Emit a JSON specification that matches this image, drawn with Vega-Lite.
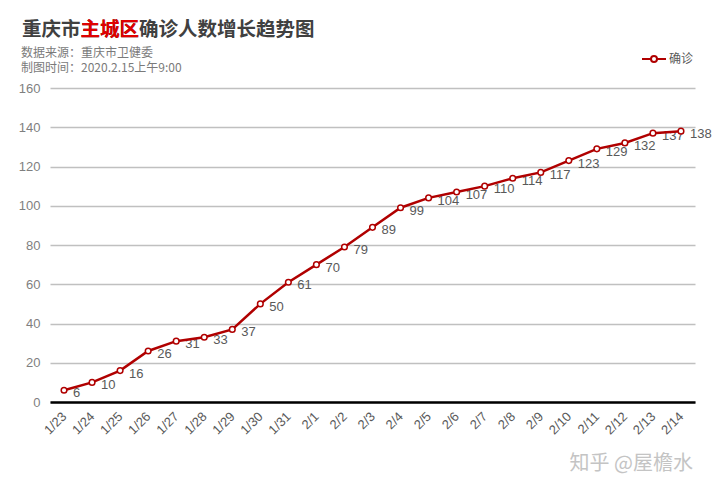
{
  "$schema": "https://vega.github.io/schema/vega-lite/v6.json",
  "width": 645,
  "height": 314,
  "autosize": {"type": "none"},
  "padding": {"left": 50, "top": 88, "right": 25, "bottom": 93},
  "background": "#ffffff",
  "config": {"view": {"stroke": null}},
  "title": {
    "text": ["数据来源：重庆市卫健委", "制图时间：2020.2.15上午9:00"],
    "anchor": "start",
    "frame": "group",
    "dx": -29,
    "offset": -55.5,
    "fontSize": 12,
    "fontWeight": "normal",
    "font": "Noto Sans CJK SC",
    "color": "#7a7a7a",
    "lineHeight": 15
  },
  "data": {
    "values": [
      {"date": "1/23", "count": 6},
      {"date": "1/24", "count": 10},
      {"date": "1/25", "count": 16},
      {"date": "1/26", "count": 26},
      {"date": "1/27", "count": 31},
      {"date": "1/28", "count": 33},
      {"date": "1/29", "count": 37},
      {"date": "1/30", "count": 50},
      {"date": "1/31", "count": 61},
      {"date": "2/1", "count": 70},
      {"date": "2/2", "count": 79},
      {"date": "2/3", "count": 89},
      {"date": "2/4", "count": 99},
      {"date": "2/5", "count": 104},
      {"date": "2/6", "count": 107},
      {"date": "2/7", "count": 110},
      {"date": "2/8", "count": 114},
      {"date": "2/9", "count": 117},
      {"date": "2/10", "count": 123},
      {"date": "2/11", "count": 129},
      {"date": "2/12", "count": 132},
      {"date": "2/13", "count": 137},
      {"date": "2/14", "count": 138}
    ]
  },
  "encoding": {
    "x": {
      "field": "date",
      "type": "ordinal",
      "sort": null,
      "scale": {"type": "point", "padding": 0.5},
      "axis": {
        "title": "主城区",
        "titleX": 30,
        "titleY": -367,
        "titleAlign": "left",
        "titleBaseline": "alphabetic",
        "titleAngle": 0,
        "titleFont": "Noto Sans CJK SC",
        "titleFontSize": 19.5,
        "titleFontWeight": "bold",
        "titleColor": "#e00000",
        "zindex": 1,
        "ticks": false,
        "domainColor": "#000000",
        "domainWidth": 2.5,
        "labelAngle": -45,
        "labelAlign": "right",
        "labelBaseline": "middle",
        "labelPadding": 12,
        "labelFont": "Liberation Sans",
        "labelFontSize": 13,
        "labelColor": "#595959",
        "grid": false
      }
    },
    "y": {
      "field": "count",
      "type": "quantitative",
      "scale": {"domain": [0, 160], "nice": false},
      "axis": {
        "values": [0, 20, 40, 60, 80, 100, 120, 140, 160],
        "title": "重庆市主城区确诊人数增长趋势图",
        "titleX": -28.5,
        "titleY": -53,
        "titleAlign": "left",
        "titleBaseline": "alphabetic",
        "titleAngle": 0,
        "titleFont": "Noto Sans CJK SC",
        "titleFontSize": 19.5,
        "titleFontWeight": "bold",
        "titleColor": "#404040",
        "domain": false,
        "ticks": false,
        "grid": true,
        "gridColor": "#c0c0c0",
        "gridWidth": 1.5,
        "labelPadding": 10,
        "labelFont": "Liberation Sans",
        "labelFontSize": 13,
        "labelColor": "#7f7f7f"
      }
    }
  },
  "layer": [
    {
      "mark": {
        "type": "text",
        "align": "left",
        "baseline": "middle",
        "dx": 9,
        "dy": 3,
        "font": "Liberation Sans",
        "fontSize": 13,
        "color": "#595959"
      },
      "encoding": {"text": {"field": "count", "type": "quantitative"}}
    },
    {
      "mark": {"type": "line", "strokeWidth": 2.5},
      "encoding": {
        "stroke": {
          "datum": "确诊",
          "scale": {"range": ["#b00000"]}
        }
      }
    },
    {
      "mark": {"type": "point", "filled": false, "fill": "#ffffff", "fillOpacity": 1, "size": 32, "strokeWidth": 1.5, "opacity": 1},
      "encoding": {
        "stroke": {
          "datum": "确诊",
          "scale": {"range": ["#b00000"]},
          "legend": {
            "orient": "none",
            "legendX": 520,
            "legendY": -42,
            "padding": 0,
            "symbolType": "M-1,0H-0.25M0.25,0H1M-0.25,0A0.25,0.25,0,1,1,0.25,0A0.25,0.25,0,1,1,-0.25,0Z",
            "symbolSize": 576,
            "symbolStrokeWidth": 2,
            "symbolFillColor": "#ffffff",
            "labelOffset": 2,
            "labelFont": "Noto Sans CJK SC",
            "labelFontSize": 12,
            "labelColor": "#595959",
            "title": "知乎 @屋檐水",
            "titleOrient": "bottom",
            "titleAnchor": "end",
            "titlePadding": 388,
            "titleFont": "Noto Sans CJK SC",
            "titleFontSize": 20,
            "titleFontWeight": "normal",
            "titleColor": "#c4c4c4",
            "titleLimit": 300
          }
        }
      }
    }
  ]
}
